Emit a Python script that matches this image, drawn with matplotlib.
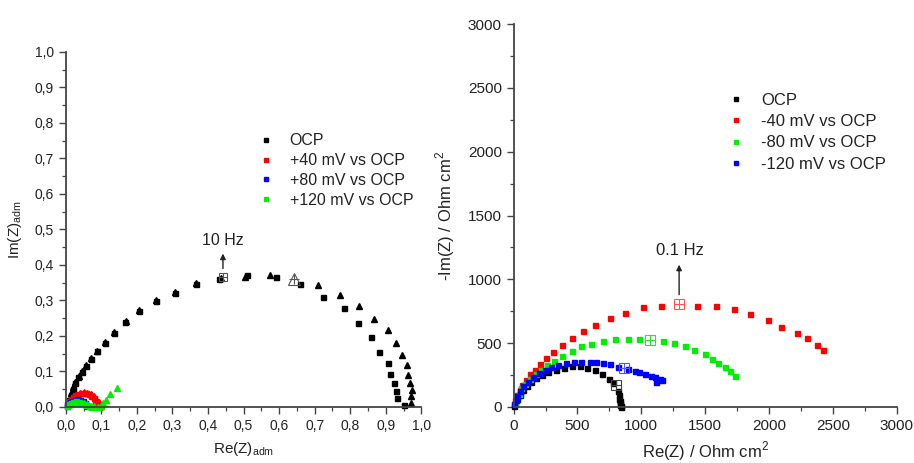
import matplotlib
matplotlib.use("Agg")
import matplotlib.pyplot as plt
from matplotlib.ticker import MultipleLocator, FuncFormatter
from matplotlib.lines import Line2D

plt.rcParams['font.family'] = ['Liberation Sans', 'DejaVu Sans']
plt.rcParams['mathtext.fontset'] = 'custom'
plt.rcParams['mathtext.rm'] = 'Liberation Sans'

# ---------------- Left panel data (dimensionless) ----------------
ocp_sq_x = [0.004, 0.010, 0.014, 0.019, 0.025, 0.035, 0.045, 0.056, 0.070, 0.088, 0.109, 0.135, 0.167,
            0.206, 0.253, 0.306, 0.365, 0.431, 0.510, 0.591, 0.659, 0.724, 0.782, 0.823, 0.857,
            0.880, 0.907, 0.912, 0.923, 0.929, 0.932, 0.950]
ocp_sq_y = [0.008, 0.020, 0.035, 0.050, 0.067, 0.084, 0.099, 0.115, 0.136, 0.157, 0.181, 0.209, 0.239,
            0.270, 0.298, 0.322, 0.346, 0.360, 0.372, 0.367, 0.346, 0.311, 0.278, 0.237, 0.196,
            0.154, 0.125, 0.093, 0.068, 0.045, 0.024, 0.005]
ocp_tri_x = [0.006, 0.012, 0.016, 0.021, 0.027, 0.036, 0.046, 0.057, 0.071, 0.089, 0.110, 0.136, 0.168,
             0.207, 0.255, 0.307, 0.366, 0.436, 0.504, 0.573, 0.709, 0.770, 0.826, 0.868, 0.905,
             0.930, 0.946, 0.959, 0.963, 0.969, 0.973, 0.972, 0.970]
ocp_tri_y = [0.012, 0.025, 0.040, 0.055, 0.071, 0.087, 0.101, 0.117, 0.138, 0.159, 0.183, 0.211, 0.241,
             0.272, 0.300, 0.325, 0.349, 0.362, 0.367, 0.371, 0.343, 0.316, 0.284, 0.249, 0.217,
             0.179, 0.146, 0.117, 0.089, 0.068, 0.048, 0.032, 0.012]
p40_sq_x = [0.005, 0.010, 0.015, 0.020, 0.027, 0.035, 0.043, 0.050, 0.058, 0.065, 0.072, 0.078, 0.083, 0.087, 0.090, 0.092]
p40_sq_y = [0.008, 0.016, 0.022, 0.028, 0.033, 0.037, 0.039, 0.040, 0.039, 0.036, 0.031, 0.025, 0.018, 0.011, 0.005, 0.001]
p40_tri_x = [0.008, 0.015, 0.022, 0.030, 0.040, 0.050, 0.060, 0.070, 0.078, 0.085, 0.092, 0.097, 0.100]
p40_tri_y = [0.010, 0.020, 0.028, 0.034, 0.038, 0.041, 0.040, 0.036, 0.030, 0.023, 0.015, 0.008, 0.003]
p80_sq_x = [0.003, 0.007, 0.012, 0.018, 0.025, 0.032, 0.040, 0.047, 0.053, 0.058, 0.061]
p80_sq_y = [0.004, 0.009, 0.014, 0.018, 0.021, 0.022, 0.020, 0.016, 0.011, 0.006, 0.002]
p120_sq_x = [0.003, 0.008, 0.014, 0.021, 0.028, 0.036, 0.044, 0.051, 0.058, 0.064, 0.070]
p120_sq_y = [0.003, 0.008, 0.012, 0.015, 0.016, 0.015, 0.012, 0.009, 0.005, 0.002, 0.001]
p120_tri_x = [0.010, 0.020, 0.030, 0.040, 0.050, 0.060, 0.070, 0.080, 0.090, 0.100, 0.105, 0.112, 0.124, 0.143]
p120_tri_y = [0.008, 0.012, 0.013, 0.012, 0.010, 0.007, 0.004, 0.002, 0.001, 0.002, 0.010, 0.020, 0.036, 0.054]
left_open_sq = (0.441, 0.367)
left_open_tri = (0.643, 0.359)
left_labels = ["OCP", "+40 mV vs OCP", "+80 mV vs OCP", "+120 mV vs OCP"]

# ---------------- Right panel data (Ohm cm2) ----------------
r_ocp_x = [5, 13, 29, 50, 73, 102, 136, 178, 225, 272, 329, 392, 455, 517, 577, 638, 695, 747, 779,
           815, 823, 828, 832, 835, 836, 838, 838]
r_ocp_y = [10, 31, 63, 97, 131, 165, 196, 225, 251, 272, 293, 309, 322, 322, 309, 288, 256, 222, 188,
           126, 92, 62, 45, 30, 18, 8, 0]
r_m40_x = [13, 29, 47, 68, 97, 131, 170, 209, 251, 311, 379, 455, 544, 640, 758, 875, 1014, 1155,
           1437, 1583, 1727, 1853, 1994, 2096, 2216, 2294, 2378, 2420]
r_m40_y = [52, 92, 131, 170, 209, 256, 293, 340, 384, 434, 486, 541, 596, 646, 698, 738, 782, 795,
           790, 795, 764, 732, 680, 628, 583, 539, 489, 450]
r_m80_x = [8, 20, 38, 60, 90, 131, 172, 212, 259, 316, 381, 455, 530, 609, 700, 794, 894, 985,
           1171, 1257, 1340, 1416, 1495, 1557, 1604, 1659, 1696, 1735]
r_m80_y = [30, 65, 105, 145, 180, 217, 256, 293, 327, 361, 400, 439, 476, 497, 518, 531, 536, 534,
           518, 502, 476, 447, 413, 377, 345, 311, 280, 241]
r_m120_x = [5, 16, 29, 47, 73, 110, 152, 199, 246, 295, 350, 413, 473, 530, 596, 648, 700, 758,
            815, 894, 951, 982, 1032, 1074, 1105, 1118, 1150, 1163]
r_m120_y = [21, 52, 89, 126, 162, 199, 235, 267, 293, 314, 332, 345, 353, 356, 353, 350, 345, 335,
            314, 301, 282, 275, 256, 241, 235, 196, 222, 214]
r_open_ocp = (800, 170)
r_open_m40 = (1296, 806)
r_open_m80 = (1071, 528)
r_open_m120 = (862, 306)
right_labels = ["OCP", "-40 mV vs OCP", "-80 mV vs OCP", "-120 mV vs OCP"]

# ---------------- Figure ----------------
fig = plt.figure(figsize=(9.14, 4.63), dpi=100)
txtc = '#222222'

axL = fig.add_axes([0.072, 0.121, 0.389, 0.767])
axR = fig.add_axes([0.562, 0.121, 0.419, 0.827])

def style(ax, ls):
    for s in ['top', 'right']:
        ax.spines[s].set_visible(False)
    for s in ['left', 'bottom']:
        ax.spines[s].set_color('#444444')
        ax.spines[s].set_linewidth(1.3)
    ax.tick_params(which='major', direction='out', length=5, width=1.0, colors='#444444',
                   labelcolor=txtc, labelsize=ls)
    ax.tick_params(which='minor', direction='out', length=3, width=0.9, colors='#444444')

BLK, RED, BLU, GRN = '#000000', '#ff0000', '#0000ff', '#00ee00'
ms_s, ms_t = 3.6, 4.6

# Left
axL.plot(ocp_sq_x, ocp_sq_y, 's', color=BLK, ms=ms_s, ls='none', clip_on=False)
axL.plot(ocp_tri_x, ocp_tri_y, '^', color=BLK, ms=ms_t, ls='none', clip_on=False)
axL.plot(p40_sq_x, p40_sq_y, 's', color=RED, ms=ms_s, ls='none', clip_on=False)
axL.plot(p40_tri_x, p40_tri_y, '^', color=RED, ms=ms_t, ls='none', clip_on=False)
axL.plot(p80_sq_x, p80_sq_y, 's', color=BLU, ms=ms_s, ls='none', clip_on=False)
axL.plot(p120_sq_x, p120_sq_y, 's', color=GRN, ms=ms_s, ls='none', clip_on=False)
axL.plot(p120_tri_x, p120_tri_y, '^', color=GRN, ms=ms_t, ls='none', clip_on=False)
axL.plot(*left_open_sq, 's', mfc='none', mec='#555555', ms=6, mew=0.8)
axL.plot(*left_open_sq, '+', color='#555555', ms=6, mew=0.8)
axL.plot(*left_open_tri, '^', mfc='none', mec='#555555', ms=8, mew=0.8)
axL.plot(*left_open_tri, '+', color='#555555', ms=7, mew=0.8)
axL.annotate('', xy=(0.442, 0.432), xytext=(0.442, 0.390),
             arrowprops=dict(arrowstyle='-|>', color='#222222', lw=1.0, mutation_scale=8,
                             shrinkA=0, shrinkB=0))
axL.text(0.442, 0.468, '10 Hz', ha='center', va='center', fontsize=11.5, color=txtc)

axL.set_xlim(0, 1.0)
axL.set_ylim(0, 1.0)
axL.xaxis.set_major_locator(MultipleLocator(0.1))
axL.xaxis.set_minor_locator(MultipleLocator(0.05))
axL.yaxis.set_major_locator(MultipleLocator(0.1))
axL.yaxis.set_minor_locator(MultipleLocator(0.05))
commafmt = FuncFormatter(lambda v, p: f"{v:.1f}".replace('.', ','))
axL.xaxis.set_major_formatter(commafmt)
axL.yaxis.set_major_formatter(commafmt)
style(axL, 10)
axL.set_xlabel('Re(Z)$_{\\mathregular{adm}}$', fontsize=11, color=txtc, labelpad=5)
axL.set_ylabel('Im(Z)$_{\\mathregular{adm}}$', fontsize=11, color=txtc, labelpad=8)

hL = [Line2D([], [], marker='s', ls='none', color=c, ms=3) for c in (BLK, RED, BLU, GRN)]
axL.legend(hL, left_labels, loc='upper left', bbox_to_anchor=(0.499, 0.811), frameon=False,
           fontsize=11.5, handlelength=1.0, handletextpad=1.0, labelspacing=0.3, labelcolor=txtc)

# Right
axR.plot(r_ocp_x, r_ocp_y, 's', color=BLK, ms=ms_s, ls='none', clip_on=False)
axR.plot(r_m40_x, r_m40_y, 's', color=RED, ms=ms_s, ls='none', clip_on=False)
axR.plot(r_m80_x, r_m80_y, 's', color=GRN, ms=ms_s, ls='none', clip_on=False)
axR.plot(r_m120_x, r_m120_y, 's', color=BLU, ms=ms_s, ls='none', clip_on=False)
for (pt, c) in [(r_open_ocp, '#444444'), (r_open_m40, '#ff5555'), (r_open_m80, '#33dd33'), (r_open_m120, '#5555ff')]:
    axR.plot(*pt, 's', mfc='none', mec=c, ms=7, mew=0.8)
    axR.plot(*pt, '+', color=c, ms=7, mew=0.8)
axR.annotate('', xy=(1296, 1115), xytext=(1296, 880),
             arrowprops=dict(arrowstyle='-|>', color='#222222', lw=1.0, mutation_scale=8,
                             shrinkA=0, shrinkB=0))
axR.text(1306, 1224, '0.1 Hz', ha='center', va='center', fontsize=12, color=txtc)

axR.set_xlim(0, 3000)
axR.set_ylim(0, 3000)
axR.xaxis.set_major_locator(MultipleLocator(500))
axR.xaxis.set_minor_locator(MultipleLocator(250))
axR.yaxis.set_major_locator(MultipleLocator(500))
axR.yaxis.set_minor_locator(MultipleLocator(250))
style(axR, 11)
axR.set_xlabel('Re(Z) / Ohm cm$^{\\mathregular{2}}$', fontsize=12, color=txtc, labelpad=5)
axR.set_ylabel('-Im(Z) / Ohm cm$^{\\mathregular{2}}$', fontsize=12, color=txtc, labelpad=8)

hR = [Line2D([], [], marker='s', ls='none', color=c, ms=3) for c in (BLK, RED, GRN, BLU)]
axR.legend(hR, right_labels, loc='upper left', bbox_to_anchor=(0.52, 0.86), frameon=False,
           fontsize=12, handlelength=1.0, handletextpad=1.0, labelspacing=0.38, labelcolor=txtc)

fig.savefig('out.png', dpi=100)
